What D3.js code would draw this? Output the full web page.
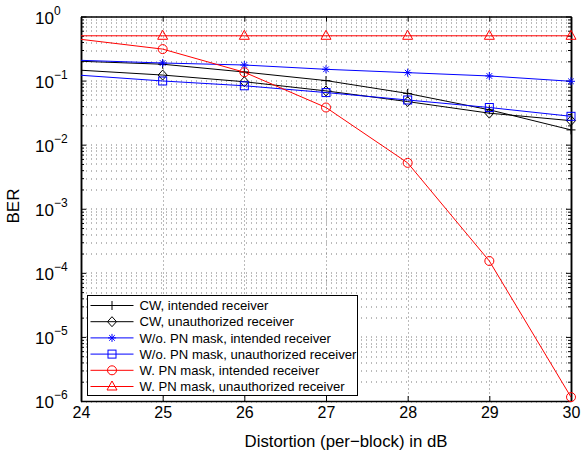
<!DOCTYPE html>
<html>
<head>
<meta charset="utf-8">
<script src="https://cdn.jsdelivr.net/npm/d3@7"></script>
<style>
  body { margin: 0; background: #fff; }
  svg text { font-family: "Liberation Sans", Arial, sans-serif; }
</style>
</head>
<body>
<div id="chart"></div>
<script>
// x values (distortion in dB)
const distortion = [24, 25, 26, 27, 28, 29, 30];

// BER per series
const cwIntended = [0.20, 0.18, 0.136, 0.10, 0.063, 0.035, 0.017];
const cwUnauth = [0.145, 0.122, 0.096, 0.069, 0.047, 0.031, 0.0237];
const woIntended = [0.207, 0.188, 0.175, 0.15, 0.133, 0.118, 0.0975];
const woUnauth = [0.121, 0.0986, 0.083, 0.065, 0.0498, 0.038, 0.0277];
const wIntended = [0.44, 0.31, 0.135, 0.038, 0.0052, 0.000153, 0.00000115];
const wUnauth = [0.5, 0.5, 0.5, 0.5, 0.5, 0.5, 0.5];

const seriesNames = [
    "CW, intended receiver",
    "CW, unauthorized receiver",
    "W/o. PN mask, intended receiver",
    "W/o. PN mask, unauthorized receiver",
    "W. PN mask, intended receiver",
    "W. PN mask, unauthorized receiver"
];
const seriesValues = [cwIntended, cwUnauth, woIntended, woUnauth, wIntended, wUnauth];
const seriesColors = ["#000", "#000", "#0000ff", "#0000ff", "#ff0000", "#ff0000"];
const seriesMarkers = ["plus", "diamond", "star", "square", "circle", "triangle"];

const xTicks = [24, 25, 26, 27, 28, 29, 30];
const yExponents = [0, -1, -2, -3, -4, -5, -6];

const W = 582, H = 458;
const margin = { top: 16.5, right: 11, bottom: 57, left: 81 };
const width = W - margin.left - margin.right,
      height = H - margin.top - margin.bottom;

const svg = d3.select("#chart").append("svg")
    .attr("width", W).attr("height", H)
    .append("g")
    .attr("transform", `translate(${margin.left},${margin.top})`);

const x = d3.scaleLinear().domain([24, 30]).range([0, width]);
const y = d3.scaleLog().domain([1e-6, 1]).range([height, 0]);

// minor y values (2..9 in each decade)
const yMinor = [];
for (let e = -6; e < 0; e++) {
    for (let k = 2; k <= 9; k++) yMinor.push(k * Math.pow(10, e));
}
const yMajor = yExponents.map(e => Math.pow(10, e));

// dotted grid
const grid = svg.append("g").attr("stroke", "#777").attr("stroke-width", 1);
grid.selectAll("line.h").data(yMajor.concat(yMinor)).enter().append("line")
    .attr("stroke-dasharray", "1,4")
    .attr("x1", 0).attr("x2", width)
    .attr("y1", d => Math.round(y(d)) + 0.5).attr("y2", d => Math.round(y(d)) + 0.5);
grid.selectAll("line.v").data(xTicks.slice(1, -1)).enter().append("line")
    .attr("stroke-dasharray", "1,3")
    .attr("y1", 0).attr("y2", height)
    .attr("x1", d => Math.round(x(d)) + 0.5).attr("x2", d => Math.round(x(d)) + 0.5);

// axes with inward ticks
const xAxis = svg.append("g").attr("transform", `translate(0,${height})`)
    .call(d3.axisBottom(x).tickValues(xTicks).tickSize(-5).tickSizeOuter(0)
        .tickPadding(6).tickFormat(d3.format("d")));
xAxis.selectAll("text").style("font-size", "16px").attr("fill", "#000");

svg.append("g")
    .call(d3.axisTop(x).tickValues(xTicks).tickSize(-5).tickSizeOuter(0).tickFormat(""));

svg.append("g")
    .call(d3.axisLeft(y).tickValues(yMajor).tickSize(-5).tickSizeOuter(0).tickFormat(""));
svg.append("g").attr("transform", `translate(${width},0)`)
    .call(d3.axisRight(y).tickValues(yMajor).tickSize(-5).tickSizeOuter(0).tickFormat(""));
svg.append("g")
    .call(d3.axisLeft(y).tickValues(yMinor).tickSize(-3).tickSizeOuter(0).tickFormat(""));
svg.append("g").attr("transform", `translate(${width},0)`)
    .call(d3.axisRight(y).tickValues(yMinor).tickSize(-3).tickSizeOuter(0).tickFormat(""));

svg.selectAll(".domain").attr("stroke", "#000").attr("stroke-width", 1.5);
svg.selectAll(".tick line").attr("stroke", "#000");

// y tick labels 10^n
const yLab = svg.append("g");
yExponents.forEach(e => {
    const t = yLab.append("text")
        .attr("y", y(Math.pow(10, e)) + 7)
        .attr("fill", "#000")
        .style("font-size", "17px");
    t.append("tspan").attr("x", -46).text("10");
    t.append("tspan").attr("dy", -9).style("font-size", "12px")
        .text(e === 0 ? "0" : "\u2212" + (-e));
});

// axis titles
svg.append("text")
    .attr("x", 346 - margin.left).attr("y", height + 46)
    .attr("text-anchor", "middle").style("font-size", "16.8px")
    .text("Distortion (per\u2212block) in dB");
svg.append("text")
    .attr("transform", `translate(${19 - margin.left},${206 - margin.top}) rotate(-90)`)
    .attr("text-anchor", "middle").style("font-size", "17px")
    .text("BER");

// markers
function drawMarker(g, type, color) {
    const s = 4.5;
    if (type === "plus") {
        g.append("path").attr("d", `M${-s},0H${s}M0,${-s}V${s}`).attr("stroke", color).attr("fill", "none");
    } else if (type === "diamond") {
        g.append("path").attr("d", `M0,${-s - 0.5}L${s},0L0,${s + 0.5}L${-s},0Z`).attr("stroke", color).attr("fill", "none");
    } else if (type === "star") {
        const r = 4;
        g.append("path").attr("d",
            `M${-r},0H${r}M0,${-r}V${r}M${-r * 0.7},${-r * 0.7}L${r * 0.7},${r * 0.7}M${-r * 0.7},${r * 0.7}L${r * 0.7},${-r * 0.7}`)
            .attr("stroke", color).attr("fill", "none");
    } else if (type === "square") {
        g.append("rect").attr("x", -4).attr("y", -4).attr("width", 8).attr("height", 8)
            .attr("stroke", color).attr("fill", "none");
    } else if (type === "circle") {
        g.append("circle").attr("r", 4.5).attr("stroke", color).attr("fill", "none");
    } else if (type === "triangle") {
        g.append("path").attr("d", `M0,-5.5L5,3.5L-5,3.5Z`).attr("stroke", color).attr("fill", "none");
    }
}

svg.append("defs").append("clipPath").attr("id", "plotclip")
    .append("rect").attr("x", -8).attr("y", -8).attr("width", width + 16).attr("height", height + 16);

const lineGen = d3.line().x((d, i) => x(distortion[i])).y(d => y(d));

seriesValues.forEach((vals, k) => {
    const g = svg.append("g").attr("clip-path", "url(#plotclip)");
    g.append("path").datum(vals)
        .attr("fill", "none").attr("stroke", seriesColors[k]).attr("stroke-width", 1)
        .attr("d", lineGen);
    // markers only at 25..30 (none visible at 24 in the figure)
    vals.forEach((v, i) => {
        if (i === 0) return;
        const m = g.append("g").attr("transform", `translate(${x(distortion[i])},${y(v)})`);
        drawMarker(m, seriesMarkers[k], seriesColors[k]);
    });
});

// legend
const legend = svg.append("g").attr("transform", `translate(${87.5 - margin.left},${295.5 - margin.top})`);
legend.append("rect").attr("width", 270).attr("height", 100)
    .attr("fill", "#fff").attr("stroke", "#000").attr("stroke-width", 1);
seriesNames.forEach((name, k) => {
    const row = legend.append("g").attr("transform", `translate(0,${10 + k * 16.2})`);
    row.append("line").attr("x1", 3).attr("x2", 46).attr("stroke", seriesColors[k]);
    const m = row.append("g").attr("transform", "translate(24.5,0)");
    drawMarker(m, seriesMarkers[k], seriesColors[k]);
    row.append("text").attr("x", 52).attr("y", 4.7)
        .style("font-size", "13.1px").attr("fill", "#000").text(name);
});
</script>
</body>
</html>
